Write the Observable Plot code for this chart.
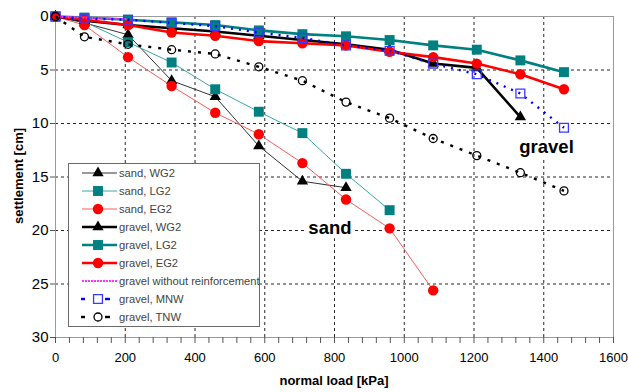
<!DOCTYPE html>
<html>
<head>
<meta charset="utf-8">
<script src="https://cdn.jsdelivr.net/npm/d3@7"></script>
<script src="https://cdn.jsdelivr.net/npm/@observablehq/plot@0.6"></script>
<style>
  html, body { margin: 0; padding: 0; background: #fff; }
  #chart { width: 628px; height: 392px; }
</style>
</head>
<body>
<div id="chart"></div>
<script>
// ---- data (normal load in kPa, settlement in cm) ----
const loads = [0, 83, 208, 333, 458, 583, 708, 833, 958, 1083, 1208, 1333, 1458];

const sandWG2   = [0, 0.6, 1.7, 6.0, 7.5, 12.1, 15.4, 16.0];
const sandLG2   = [0, 0.5, 2.4, 4.3, 6.8, 8.9, 10.9, 14.7, 18.1];
const sandEG2   = [0, 0.8, 3.8, 6.5, 9.0, 11.0, 13.7, 17.1, 19.8, 25.6];
const gravelWG2 = [0, 0.4, 0.8, 1.1, 1.4, 1.8, 2.2, 2.6, 3.1, 4.4, 4.8, 9.4];
const gravelLG2 = [0, 0.1, 0.3, 0.55, 0.8, 1.3, 1.65, 1.85, 2.2, 2.7, 3.1, 4.1, 5.2];
const gravelEG2 = [0, 0.3, 0.8, 1.5, 1.8, 2.3, 2.5, 2.7, 3.3, 3.8, 4.4, 5.4, 6.8];
const gravelNoReinf = [0, 0.1, 0.25];
const gravelMNW = [0, 0.2, 0.3, 0.6, 0.9, 1.5, 2.0, 2.7, 3.2, 4.4, 5.4, 7.2, 10.4];
const gravelTNW = [0, 1.9, 2.6, 3.1, 3.5, 4.7, 6.0, 8.0, 9.5, 11.4, 13.0, 14.6, 16.3];

const seriesNames = ["sand, WG2", "sand, LG2", "sand, EG2", "gravel, WG2", "gravel, LG2",
  "gravel, EG2", "gravel without reinforcement", "gravel, MNW", "gravel, TNW"];

const xTicks = [0, 200, 400, 600, 800, 1000, 1200, 1400, 1600];
const yTicks = [0, 5, 10, 15, 20, 25, 30];
const annotations = [
  {label: "sand", load: 787, settlement: 19.8},
  {label: "gravel", load: 1408, settlement: 12.2}
];

// ---- styles ----
const styles = [
  {line: "#333333", width: 1, dash: null, marker: "triangle", fill: "#000", stroke: "none", r: 4.2},
  {line: "#3aa6a6", width: 1, dash: null, marker: "square", fill: "#008080", stroke: "none", r: 5.6},
  {line: "#ff5a5a", width: 1, dash: null, marker: "circle", fill: "#ff0000", stroke: "none", r: 5.2},
  {line: "#000000", width: 2.6, dash: null, marker: "triangle", fill: "#000", stroke: "none", r: 4.2},
  {line: "#008080", width: 2.6, dash: null, marker: "square", fill: "#008080", stroke: "none", r: 5.6},
  {line: "#ff0000", width: 2.6, dash: null, marker: "circle", fill: "#ff0000", stroke: "none", r: 5.2},
  {line: "#ff33ff", width: 2, dash: "2,1", marker: null},
  {line: "#0000ff", width: 2.4, dash: "2,6", marker: "square", fill: "none", stroke: "#3a3aff", r: 5},
  {line: "#000000", width: 2.4, dash: "3,7", marker: "circle", fill: "none", stroke: "#000", r: 4}
];
const allValues = [sandWG2, sandLG2, sandEG2, gravelWG2, gravelLG2, gravelEG2, gravelNoReinf, gravelMNW, gravelTNW];

const seriesData = allValues.map((vals, i) =>
  vals.map((v, j) => ({series: seriesNames[i], load: loads[j], settlement: v})));

const dataMarks = [];
seriesData.forEach((data, i) => {
  const s = styles[i];
  dataMarks.push(Plot.line(data, {x: "load", y: "settlement", stroke: s.line, strokeWidth: s.width,
    strokeDasharray: s.dash, strokeLinecap: "butt", strokeLinejoin: "round"}));
  if (s.marker) {
    dataMarks.push(Plot.dot(data, {x: "load", y: "settlement", symbol: s.marker, r: s.r,
      fill: s.fill, stroke: s.stroke, strokeWidth: 1.3}));
  }
});

const chart = Plot.plot({
  width: 628,
  height: 392,
  marginLeft: 55,
  marginRight: 15,
  marginTop: 16,
  marginBottom: 55,
  style: {fontFamily: "'Liberation Sans', Arial, sans-serif", background: "#fff", color: "#000"},
  x: {domain: [0, 1600]},
  y: {domain: [0, 30], reverse: true},
  marks: [
    Plot.gridX(xTicks.slice(1, -1), {stroke: "#000", strokeOpacity: 0.85, strokeDasharray: "3,3"}),
    Plot.gridY(yTicks.slice(1, -1), {stroke: "#000", strokeOpacity: 0.85, strokeDasharray: "3,3"}),
    Plot.frame({stroke: "#9a9a9a"}),
    Plot.axisX({ticks: d3.range(0, 1601, 40), tickSize: 6, tickFormat: () => "", label: null, stroke: "#555"}),
    Plot.axisX({ticks: xTicks, tickSize: 0, tickPadding: 15, fontSize: 13, label: null, tickFormat: d => String(d)}),
    Plot.axisY({ticks: yTicks, tickSize: 5, tickPadding: 2, fontSize: 15, label: null, stroke: "#555", tickFormat: d => String(d)}),
    ...dataMarks,
    Plot.text(annotations, {x: "load", y: "settlement", text: "label", fontSize: 18.5, fontWeight: "bold",
      fill: "#000", stroke: "#fff", strokeWidth: 9})
  ]
});

document.getElementById("chart").appendChild(chart);

// ---- axis titles and legend ----
const svg = d3.select(chart);
svg.append("text")
  .attr("x", 334).attr("y", 385)
  .attr("text-anchor", "middle")
  .attr("font-size", 13).attr("font-weight", "bold")
  .text("normal load [kPa]");
svg.append("text")
  .attr("transform", "translate(23,176) rotate(-90)")
  .attr("text-anchor", "middle")
  .attr("font-size", 13).attr("font-weight", "bold")
  .text("settlement [cm]");

const lg = svg.append("g").attr("font-family", "'Liberation Sans', Arial, sans-serif");
lg.append("rect").attr("x", 68.5).attr("y", 163.5).attr("width", 191).attr("height", 163)
  .attr("fill", "#fff").attr("stroke", "#6a6a6a");
const symbolFor = {triangle: d3.symbolTriangle, square: d3.symbolSquare, circle: d3.symbolCircle};
seriesNames.forEach((name, i) => {
  const s = styles[i];
  const y = 173 + i * 18;
  const g = lg.append("g");
  if (i >= 7) {
    g.append("line").attr("x1", 81).attr("x2", 85).attr("y1", y).attr("y2", y)
      .attr("stroke", s.line).attr("stroke-width", s.width);
    g.append("line").attr("x1", 105).attr("x2", 110).attr("y1", y).attr("y2", y)
      .attr("stroke", s.line).attr("stroke-width", s.width);
  } else {
    g.append("line").attr("x1", 82).attr("x2", 117).attr("y1", y).attr("y2", y)
      .attr("stroke", s.line).attr("stroke-width", s.width)
      .attr("stroke-dasharray", s.dash);
  }
  if (s.marker) {
    g.append("path")
      .attr("transform", `translate(98,${y})`)
      .attr("d", d3.symbol(symbolFor[s.marker], Math.PI * s.r * s.r)())
      .attr("fill", s.fill).attr("stroke", s.stroke).attr("stroke-width", 1.3);
  }
  g.append("text").attr("x", 119).attr("y", y).attr("dy", "0.35em")
    .attr("text-anchor", "start")
    .attr("font-size", 11.2).attr("fill", "#444").text(name);
});
</script>
</body>
</html>
